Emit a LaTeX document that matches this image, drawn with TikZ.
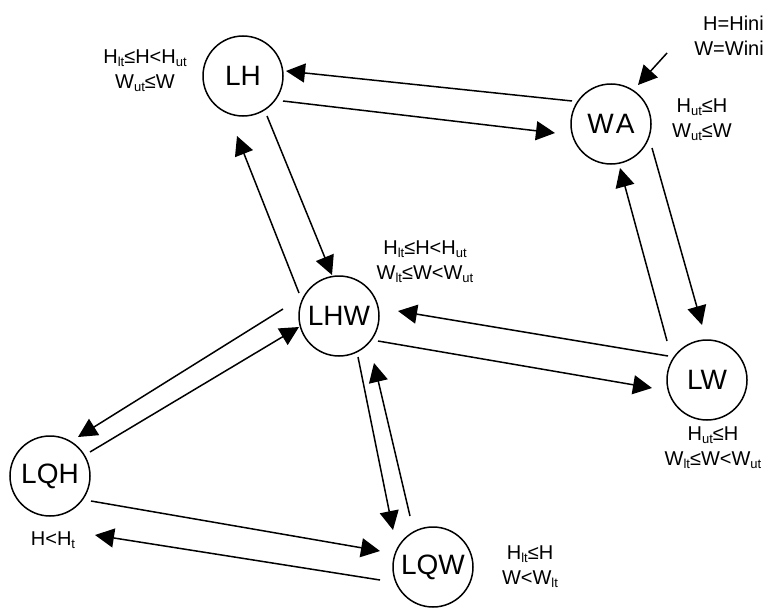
\documentclass[tikz,border=0pt]{standalone}
\usepackage{fontspec}
\setmainfont{Liberation Sans}
\usetikzlibrary{arrows.meta}
\newcommand{\sbs}[1]{\raisebox{-3pt}{\fontsize{13}{13}\selectfont #1}}
\begin{document}
\begin{tikzpicture}[x=1pt,y=-1pt,
  stnode/.style={circle,draw,line width=1.5pt,minimum size=80pt,inner sep=0pt,font=\fontsize{28}{28}\selectfont},
  arr/.style={line width=1.5pt,-{Triangle[length=19pt,width=19pt]}},
  lab/.style={font=\fontsize{20}{25}\selectfont,align=center,inner sep=0pt}]
\useasboundingbox (0,0) rectangle (767,610);
% states
\node[stnode] (LH)  at (243,76)  {LH};
\node[stnode] (WA)  at (611,124) {W\kern2pt A};
\node[stnode] (LHW) at (339,316) {LHW};
\node[stnode] (LW)  at (707,380) {LW};
\node[stnode] (LQH) at (50,476)  {LQH};
\node[stnode] (LQW) at (433,567) {LQW};
% labels
\node[lab] (lLH)  at (145,71)  {H\sbs{lt}≤H<H\sbs{ut}\\W\sbs{ut}≤W};
\node[lab,align=right,anchor=east] (lini) at (764,36) {H=Hini\\W=Wini};
\node[lab] (lWA)  at (702,120) {H\sbs{ut}≤H\\W\sbs{ut}≤W};
\node[lab] (lLHW) at (425,262) {H\sbs{lt}≤H<H\sbs{ut}\\W\sbs{lt}≤W<W\sbs{ut}};
\node[lab] (lLW)  at (713,448) {H\sbs{ut}≤H\\W\sbs{lt}≤W<W\sbs{ut}};
\node[lab] (lLQH) at (53,540)  {H<H\sbs{t}};
\node[lab] (lLQW) at (530,567) {H\sbs{lt}≤H\\W<W\sbs{lt}};
% connector end points
\coordinate (WAa) at (572,101);  \coordinate (LHa) at (286,71);
\coordinate (LHb) at (283,101);  \coordinate (WAb) at (555,133);
\coordinate (LHc) at (267,116);  \coordinate (LHWc) at (332,275);
\coordinate (LHWd) at (299,293); \coordinate (LHd) at (237,136);
\coordinate (WAe) at (652,148);  \coordinate (LWe) at (702,325);
\coordinate (LWf) at (667,341);  \coordinate (WAf) at (620,168);
\coordinate (LWg) at (668,356);  \coordinate (LHWg) at (398,311);
\coordinate (LHWh) at (378,341); \coordinate (LWh) at (652,388);
\coordinate (LHWi) at (283,309); \coordinate (LQHi) at (78,437);
\coordinate (LQHj) at (90,452);  \coordinate (LHWj) at (299,327);
\coordinate (LQHk) at (91,501);  \coordinate (LQWk) at (380,551);
\coordinate (LQWl) at (380,580); \coordinate (LQHl) at (95,535);
\coordinate (LHWm) at (358,357); \coordinate (LQWm) at (393,530);
\coordinate (LQWn) at (410,516); \coordinate (LHWn) at (374,363);
\coordinate (inis) at (667,53);  \coordinate (WAini) at (638,85);
% connectors
\draw[arr] (WAa) -- (LHa);
\draw[arr] (LHb) -- (WAb);
\draw[arr] (LHc) -- (LHWc);
\draw[arr] (LHWd) -- (LHd);
\draw[arr] (WAe) -- (LWe);
\draw[arr] (LWf) -- (WAf);
\draw[arr] (LWg) -- (LHWg);
\draw[arr] (LHWh) -- (LWh);
\draw[arr] (LHWi) -- (LQHi);
\draw[arr] (LQHj) -- (LHWj);
\draw[arr] (LQHk) -- (LQWk);
\draw[arr] (LQWl) -- (LQHl);
\draw[arr] (LHWm) -- (LQWm);
\draw[arr] (LQWn) -- (LHWn);
\draw[arr] (inis) -- (WAini);
\end{tikzpicture}
\end{document}
